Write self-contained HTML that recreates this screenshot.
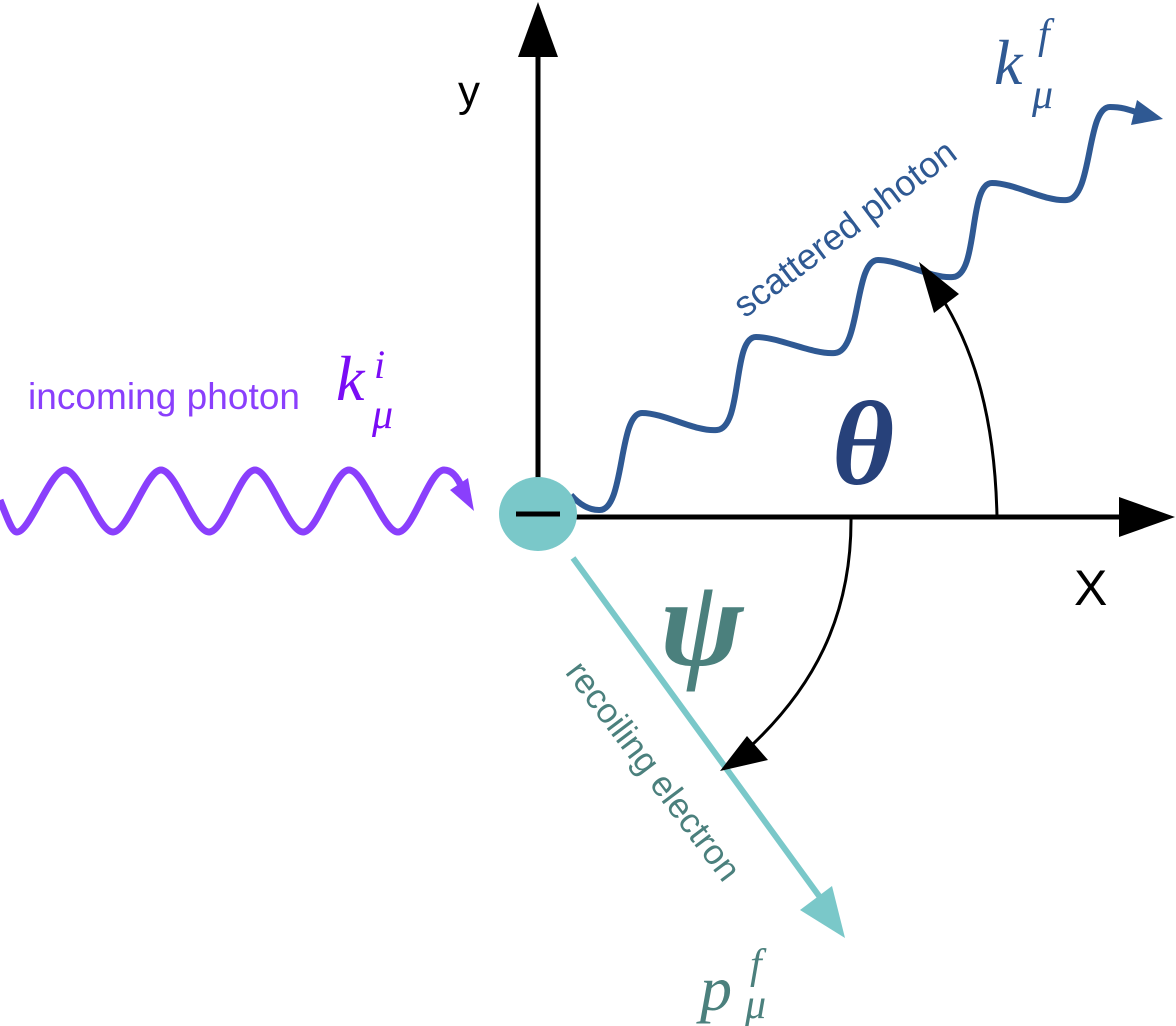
<!DOCTYPE html>
<html><head><meta charset="utf-8"><style>
html,body{margin:0;padding:0;background:#fff;}
svg{display:block;}
</style></head><body>
<svg width="1176" height="1026" viewBox="0 0 1176 1026" xmlns="http://www.w3.org/2000/svg">
<!-- axes -->
<line x1="538" y1="513" x2="538" y2="50" stroke="#000" stroke-width="5"/>
<polygon points="538,2 518,57 558,57" fill="#000"/>
<line x1="538" y1="517" x2="1125" y2="517" stroke="#000" stroke-width="5"/>
<polygon points="1175,517 1119,497 1119,537" fill="#000"/>
<text x="458" y="106" font-family="Liberation Sans, sans-serif" font-size="44" fill="#000">y</text>
<text x="1074" y="605" font-family="Liberation Sans, sans-serif" font-size="50" fill="#000">X</text>

<!-- incoming photon -->
<path d="M0,500 C8,520 12,532 17,532 C30,532 50,470 65,470 C80,470 98,532 113,532 C128,532 146,470 161,470 C176,470 194,532 209,532 C224,532 240,470 255,470 C270,470 288,532 303,532 C318,532 334,470 349,470 C364,470 383,532 398,532 C413,532 429,470 444,470 C452,470 458,478 462,488" fill="none" stroke="#8a3ffc" stroke-width="7"/>
<polygon points="474,511 450,490 468,478" fill="#8a3ffc"/>
<text x="28" y="409" font-family="Liberation Sans, sans-serif" font-size="37" fill="#8a3ffc" textLength="272">incoming photon</text>
<text x="336" y="400" font-family="Liberation Serif, serif" font-style="italic" font-size="64" fill="#7a0cf5">k</text>
<text x="374" y="378" font-family="Liberation Serif, serif" font-style="italic" font-size="40" fill="#7a0cf5">i</text>
<text x="372" y="428" font-family="Liberation Serif, serif" font-style="italic" font-size="42" fill="#7a0cf5">μ</text>

<!-- scattered photon -->
<path d="M571,495 C580,505 590,510 599,510 C625,512 618,413 642,413 C665,413 695,432 717,430 C743,428 732,337 756,337 C779,337 813,355 835,353 C861,351 854,260 878,260 C901,260 931,279 953,277 C979,275 968,183 992,183 C1015,183 1045,202 1067,200 C1093,198 1086,107 1110,107 C1125,107 1132,111 1145,115" fill="none" stroke="#2f5993" stroke-width="6"/>
<polygon points="1163,119 1131,125 1137,100" fill="#2f5993"/>
<text transform="translate(852,238) rotate(-37)" text-anchor="middle" font-family="Liberation Sans, sans-serif" font-size="36" fill="#2f5993">scattered photon</text>
<text x="994" y="84" font-family="Liberation Serif, serif" font-style="italic" font-size="64" fill="#2f5993">k</text>
<text x="1038" y="48" font-family="Liberation Serif, serif" font-style="italic" font-size="42" fill="#2f5993">f</text>
<text x="1032" y="108" font-family="Liberation Serif, serif" font-style="italic" font-size="42" fill="#2f5993">μ</text>

<!-- theta arc -->
<path d="M997,517 C995,420 975,350 940,295" fill="none" stroke="#000" stroke-width="3"/>
<polygon points="919,262 959,294 934,313" fill="#000"/>
<text x="832" y="484" font-family="Liberation Serif, serif" font-style="italic" font-weight="bold" font-size="120" fill="#27417a">θ</text>

<!-- electron -->
<line x1="573" y1="558" x2="822" y2="900" stroke="#7ac8c9" stroke-width="6"/>
<polygon points="845,938 800,910 832,886" fill="#7ac8c9"/>
<ellipse cx="538" cy="514" rx="39" ry="37" fill="#7ac8c9"/>
<line x1="516" y1="514" x2="560" y2="514" stroke="#000" stroke-width="5"/>
<text transform="translate(644,778) rotate(53)" text-anchor="middle" font-family="Liberation Sans, sans-serif" font-size="35" fill="#4b807d">recoiling electron</text>
<text x="700" y="1010" font-family="Liberation Serif, serif" font-style="italic" font-size="64" fill="#4b807d">p</text>
<text x="750" y="978" font-family="Liberation Serif, serif" font-style="italic" font-size="42" fill="#4b807d">f</text>
<text x="745" y="1018" font-family="Liberation Serif, serif" font-style="italic" font-size="42" fill="#4b807d">μ</text>

<!-- psi arc -->
<path d="M851,517 C852,620 810,690 752,745" fill="none" stroke="#000" stroke-width="3"/>
<polygon points="720,771 747,736 768,760" fill="#000"/>
<text x="660" y="665" font-family="Liberation Serif, serif" font-style="italic" font-weight="bold" font-size="125" fill="#4b807d">ψ</text>
</svg>
</body></html>
